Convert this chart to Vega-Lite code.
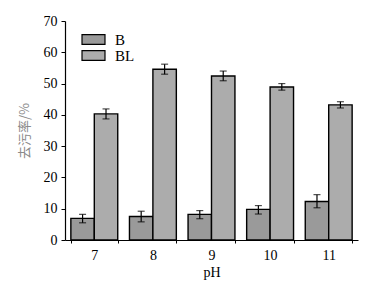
{
  "$schema": "https://vega.github.io/schema/vega-lite/v6.json",
  "width": 293,
  "height": 219,
  "autosize": "none",
  "padding": {"left": 65, "top": 21, "right": 21, "bottom": 46},
  "background": "white",
  "config": {
    "view": {"stroke": null},
    "font": "'Liberation Serif', 'Times New Roman', serif",
    "axis": {"grid": false, "domainColor": "black", "tickColor": "black", "labelColor": "black", "labelFont": "'Liberation Serif', 'Times New Roman', serif", "titleFont": "'Liberation Serif', 'Times New Roman', serif", "labelFontSize": 14, "titleFontSize": 14, "titleFontWeight": "normal"}
  },
  "data": {
    "values": [
      {"pH": 7, "group": "B", "value": 6.9, "lo": 5.5, "hi": 8.2},
      {"pH": 7, "group": "BL", "value": 40.3, "lo": 38.7, "hi": 41.9},
      {"pH": 8, "group": "B", "value": 7.5, "lo": 5.8, "hi": 9.2},
      {"pH": 8, "group": "BL", "value": 54.6, "lo": 53.0, "hi": 56.2},
      {"pH": 9, "group": "B", "value": 8.2, "lo": 6.8, "hi": 9.4},
      {"pH": 9, "group": "BL", "value": 52.4, "lo": 50.9, "hi": 54.0},
      {"pH": 10, "group": "B", "value": 9.8, "lo": 8.3, "hi": 11.0},
      {"pH": 10, "group": "BL", "value": 48.9, "lo": 47.9, "hi": 50.0},
      {"pH": 11, "group": "B", "value": 12.3, "lo": 10.3, "hi": 14.5},
      {"pH": 11, "group": "BL", "value": 43.2, "lo": 42.2, "hi": 44.2}
    ]
  },
  "encoding": {
    "x": {
      "field": "pH", "type": "ordinal",
      "scale": {"paddingInner": 0.2, "paddingOuter": 0.1},
      "axis": {"title": "pH", "labelAngle": 0, "tickBand": "extent", "tickSize": 3, "labelPadding": 5, "titlePadding": 3, "domainWidth": 1.2}
    },
    "xOffset": {"field": "group", "type": "nominal", "scale": {"paddingInner": 0, "paddingOuter": 0}}
  },
  "layer": [
    {
      "mark": {"type": "bar", "stroke": "black", "strokeWidth": 1.4},
      "encoding": {
        "y": {
          "field": "value", "type": "quantitative",
          "scale": {"domain": [0, 70], "nice": false},
          "axis": {"title": "去污率/%", "titleFont": "Noto Sans CJK SC", "titleColor": "#8a8a8a", "titleFontSize": 13, "values": [0, 10, 20, 30, 40, 50, 60, 70], "labelOverlap": false, "tickSize": 4, "labelPadding": 4, "titlePadding": 12, "domainWidth": 1.2}
        },
        "fill": {
          "field": "group", "type": "nominal",
          "scale": {"domain": ["B", "BL"], "range": ["#9a9a9a", "#acacac"]},
          "legend": {
            "title": null, "orient": "none", "legendX": 21, "legendY": 11, "padding": 0,
            "symbolType": "M-4,-1.72H4V1.72H-4Z", "symbolSize": 33,
            "symbolStrokeColor": "black", "symbolStrokeWidth": 1.2,
            "labelFontSize": 15, "labelFont": "'Liberation Serif', 'Times New Roman', serif", "labelColor": "black",
            "rowPadding": 0, "labelOffset": 14
          }
        }
      }
    },
    {
      "mark": {"type": "rule", "color": "black", "strokeWidth": 1.2},
      "encoding": {
        "y": {
          "field": "lo", "type": "quantitative",
          "scale": {"domain": [0, 70], "nice": false},
          "axis": {"title": "去污率/%", "titleFont": "Noto Sans CJK SC", "titleColor": "#8a8a8a", "titleFontSize": 13, "values": [0, 10, 20, 30, 40, 50, 60, 70], "labelOverlap": false, "tickSize": 4, "labelPadding": 4, "titlePadding": 12, "domainWidth": 1.2}
        },
        "y2": {"field": "hi"}
      }
    },
    {
      "mark": {"type": "tick", "color": "black", "size": 7, "thickness": 1.2},
      "encoding": {
        "y": {
          "field": "hi", "type": "quantitative",
          "scale": {"domain": [0, 70], "nice": false},
          "axis": {"title": "去污率/%", "titleFont": "Noto Sans CJK SC", "titleColor": "#8a8a8a", "titleFontSize": 13, "values": [0, 10, 20, 30, 40, 50, 60, 70], "labelOverlap": false, "tickSize": 4, "labelPadding": 4, "titlePadding": 12, "domainWidth": 1.2}
        }
      }
    },
    {
      "mark": {"type": "tick", "color": "black", "size": 7, "thickness": 1.2},
      "encoding": {
        "y": {
          "field": "lo", "type": "quantitative",
          "scale": {"domain": [0, 70], "nice": false},
          "axis": {"title": "去污率/%", "titleFont": "Noto Sans CJK SC", "titleColor": "#8a8a8a", "titleFontSize": 13, "values": [0, 10, 20, 30, 40, 50, 60, 70], "labelOverlap": false, "tickSize": 4, "labelPadding": 4, "titlePadding": 12, "domainWidth": 1.2}
        }
      }
    }
  ]
}
